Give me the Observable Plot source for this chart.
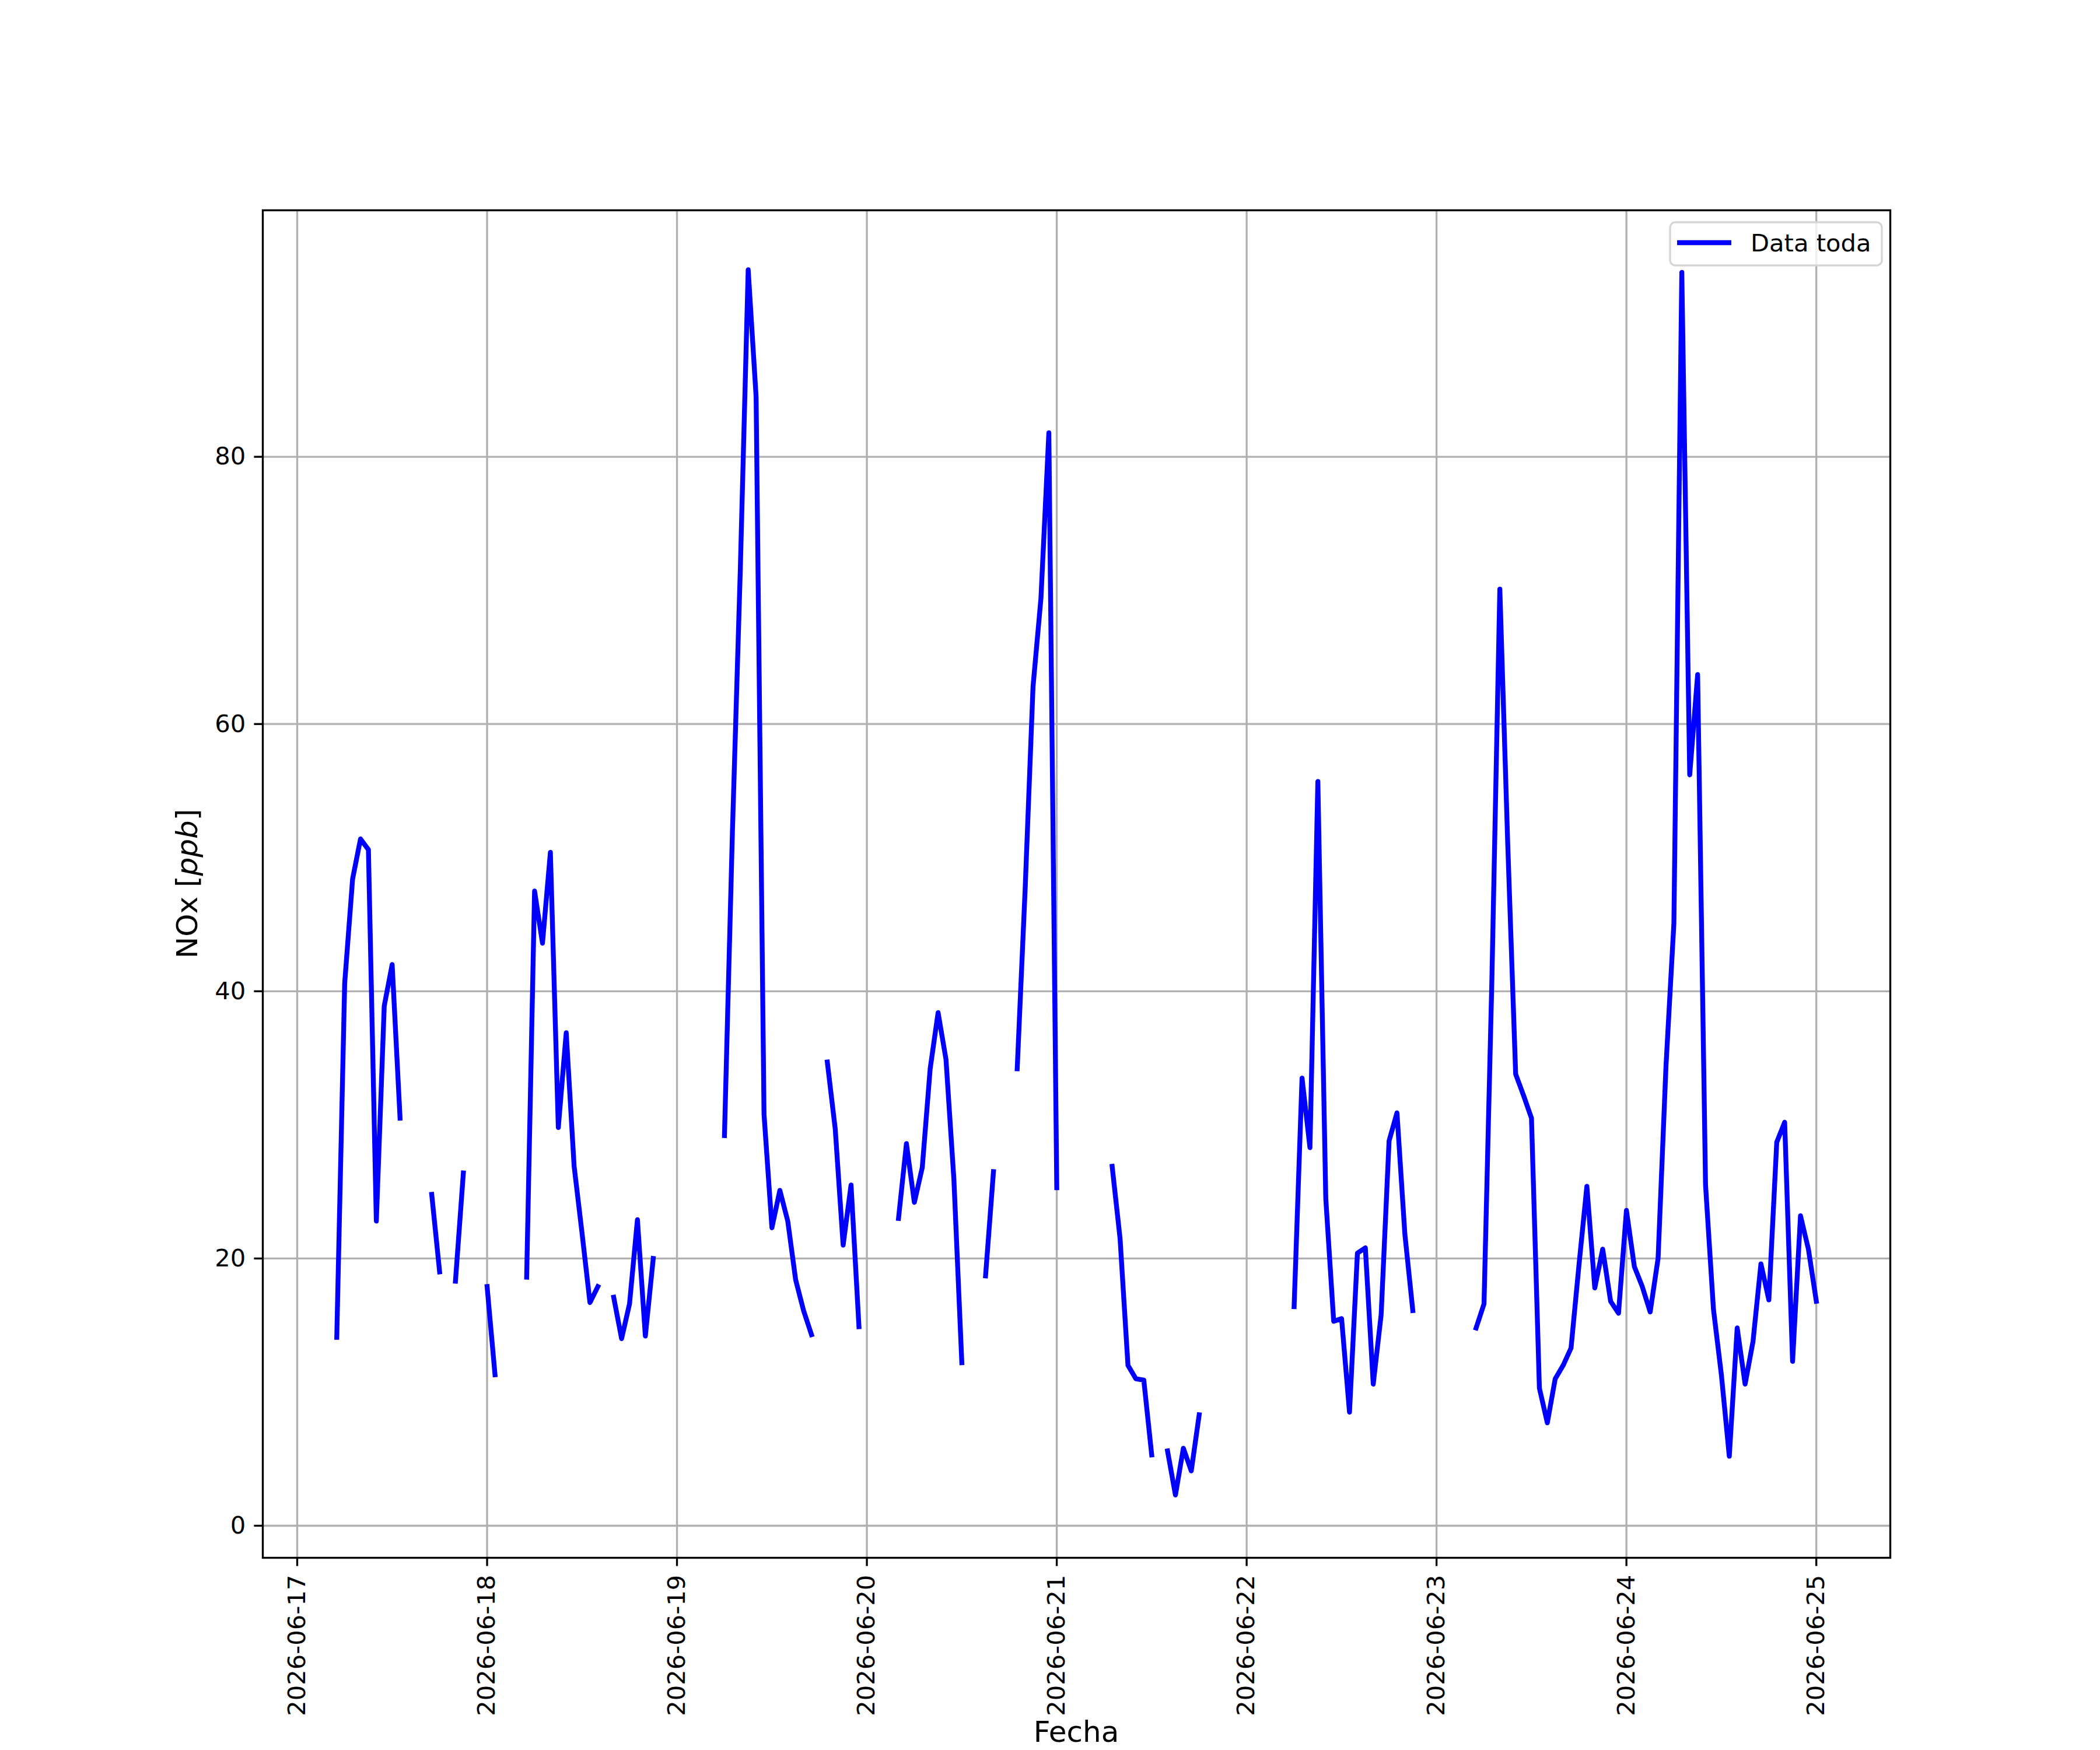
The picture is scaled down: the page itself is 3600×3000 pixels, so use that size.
<!DOCTYPE html>
<html>
<head>
<meta charset="utf-8">
<script src="https://cdn.jsdelivr.net/npm/d3@7"></script>
<script src="https://cdn.jsdelivr.net/npm/@observablehq/plot@0.6"></script>
<style>
  html, body { margin: 0; padding: 0; background: white; }
  #chart { position: relative; width: 3600px; height: 3000px; }
</style>
</head>
<body>
<div id="chart"></div>
<script>
// Hourly NOx values [ppb], one list per day (index = hour, null = missing)
const day0617 = [null, null, null, null, null, 14.1, 40.6, 48.4, 51.4, 50.6, 22.8, 38.9, 42.0, 30.5, null, null, null, 24.8, 19.0, null, 18.3, 26.4, null, null];
const day0618 = [17.9, 11.3, null, null, null, 18.6, 47.5, 43.6, 50.4, 29.8, 36.9, 26.9, 21.9, 16.7, 17.9, null, 17.1, 14.0, 16.6, 22.9, 14.2, 20.0, null, null];
const day0619 = [null, null, null, null, null, null, 29.2, 51.8, 71.5, 94.0, 84.5, 30.8, 22.3, 25.1, 22.8, 18.4, 16.1, 14.3, null, 34.7, 29.7, 21.0, 25.5, 14.9];
const day0620 = [null, null, null, null, 23.0, 28.6, 24.2, 26.8, 34.2, 38.4, 34.9, 25.9, 12.2, null, null, 18.7, 26.5, null, null, 34.2, 47.6, 62.8, 69.4, 81.8];
const day0621 = [25.3, null, null, null, null, null, null, 26.9, 21.5, 12.0, 11.0, 10.9, 5.3, null, 5.6, 2.3, 5.8, 4.1, 8.3, null, null, null, null, null];
const day0622 = [null, null, null, null, null, null, 16.4, 33.5, 28.3, 55.7, 24.5, 15.3, 15.5, 8.5, 20.4, 20.8, 10.6, 15.8, 28.8, 30.9, 21.8, 16.1, null, null];
const day0623 = [null, null, null, null, null, 14.8, 16.6, 41.0, 70.1, 51.0, 33.8, 32.2, 30.5, 10.3, 7.7, 11.0, 12.0, 13.3, 19.5, 25.4, 17.8, 20.7, 16.8, 15.9];
const day0624 = [23.6, 19.4, 17.9, 16.0, 20.0, 34.4, 45.1, 93.8, 56.2, 63.7, 25.5, 16.2, 11.3, 5.2, 14.8, 10.6, 13.8, 19.6, 16.9, 28.7, 30.2, 12.3, 23.2, 20.7];
const day0625 = [16.8];

const dayLists = [day0617, day0618, day0619, day0620, day0621, day0622, day0623, day0624, day0625];
const startDate = Date.UTC(2026, 5, 17);

// tick values
const xTickDays = ["2026-06-17","2026-06-18","2026-06-19","2026-06-20","2026-06-21","2026-06-22","2026-06-23","2026-06-24","2026-06-25"];
const yTicks = [0, 20, 40, 60, 80];

const seriesName = "Data toda";
const xLabel = "Fecha";

const data = dayLists.flatMap((vals, i) =>
  vals.map((v, h) => ({date: new Date(startDate + (i * 24 + h) * 3600e3), value: v}))
);
const tickDates = xTickDays.map(s => new Date(s + "T00:00:00Z"));

const DAY = 864e5;
const xDomain = [new Date(startDate - 0.18125 * DAY), new Date(startDate + 8.38958 * DAY)];

const lw = 3.33;     // 0.8pt at 300dpi
const fs = 41.67;    // 10pt
const fsLabel = 50;  // 12pt

const plot = Plot.plot({
  width: 3600,
  height: 3000,
  marginLeft: 450,
  marginRight: 360,
  marginTop: 360,
  marginBottom: 330,
  style: {fontFamily: "DejaVu Sans", background: "white", color: "black"},
  x: {type: "utc", domain: xDomain},
  y: {domain: [-2.4, 98.45]},
  marks: [
    Plot.gridX(tickDates, {x: d => d, stroke: "#b0b0b0", strokeOpacity: 1, strokeWidth: lw}),
    Plot.gridY(yTicks, {y: d => d, stroke: "#b0b0b0", strokeOpacity: 1, strokeWidth: lw}),
    Plot.lineY(data, {x: "date", y: "value", stroke: "blue", strokeWidth: 8.33,
      strokeLinejoin: "round", strokeLinecap: "square", clip: true}),
    Plot.frame({stroke: "black", strokeWidth: lw}),
    Plot.axisY({ticks: yTicks, tickSize: 14.6, tickPadding: 14.6, fontSize: fs,
      strokeWidth: lw, label: null, tickFormat: d => String(d)}),
    Plot.axisX({ticks: tickDates, tickSize: 14.6, tickPadding: 14.6, fontSize: fs,
      strokeWidth: lw, label: null, tickRotate: -90, textAnchor: "end", lineAnchor: "middle",
      tickFormat: d3.utcFormat("%Y-%m-%d")})
  ]
});

document.getElementById("chart").appendChild(plot);

const svg = d3.select(plot);

// y label with italic math part
const yl = svg.append("text")
  .attr("transform", "translate(338,1515) rotate(-90)")
  .attr("text-anchor", "middle")
  .attr("font-size", fsLabel)
  .attr("font-family", "DejaVu Sans")
  .attr("fill", "black");
yl.append("tspan").text("NOx [");
yl.append("tspan").attr("font-style", "italic").text("ppb");
yl.append("tspan").text("]");

// x label
svg.append("text")
  .attr("x", (450 + 3240) / 2)
  .attr("y", 2986)
  .attr("text-anchor", "middle")
  .attr("font-size", fsLabel)
  .attr("font-family", "DejaVu Sans")
  .attr("fill", "black")
  .text(xLabel);

// legend
const lg = svg.append("g");
lg.append("rect")
  .attr("x", 2863).attr("y", 381).attr("width", 363).attr("height", 74)
  .attr("rx", 9).attr("fill", "white").attr("fill-opacity", 0.8)
  .attr("stroke", "#d6d6d6").attr("stroke-width", lw);
lg.append("line")
  .attr("x1", 2875).attr("x2", 2968).attr("y1", 416).attr("y2", 416)
  .attr("stroke", "blue").attr("stroke-width", 8.33);
lg.append("text")
  .attr("x", 3001).attr("y", 431)
  .attr("text-anchor", "start")
  .attr("font-size", fs).attr("font-family", "DejaVu Sans").attr("fill", "black")
  .text(seriesName);
</script>
</body>
</html>
